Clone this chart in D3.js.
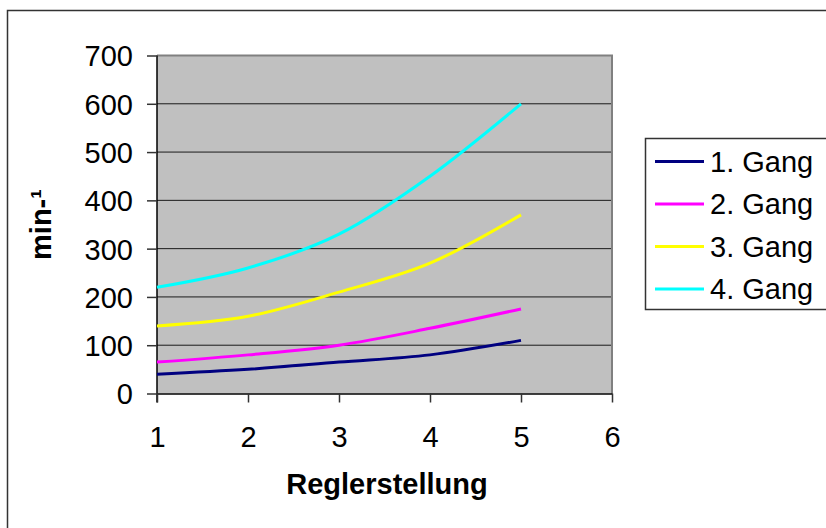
<!DOCTYPE html>
<html>
<head>
<meta charset="utf-8">
<script src="https://cdn.jsdelivr.net/npm/d3@7"></script>
<style>
  html, body { margin: 0; padding: 0; background: #fff; }
  svg text { font-family: "Liberation Sans", Arial, sans-serif; fill: #000; }
</style>
</head>
<body>
<svg id="chart" width="826" height="528"></svg>
<script>
// Drehzahl je Gang über der Reglerstellung
const reglerstellung = [1, 2, 3, 4, 5];
const gang1 = [40, 50, 65, 80, 110];
const gang2 = [65, 80, 100, 135, 175];
const gang3 = [140, 160, 210, 270, 370];
const gang4 = [220, 260, 330, 450, 600];
const seriesNames = ["1. Gang", "2. Gang", "3. Gang", "4. Gang"];
const seriesColors = ["#000080", "#ff00ff", "#ffff00", "#00ffff"];
const xTicks = [1, 2, 3, 4, 5, 6];
const yTicks = [0, 100, 200, 300, 400, 500, 600, 700];

const seriesValues = [gang1, gang2, gang3, gang4];

const svg = d3.select("#chart");
const plot = { left: 157, right: 612, top: 55.5, bottom: 393.5 };

const x = d3.scaleLinear().domain([1, 6]).range([plot.left, plot.right]);
const y = d3.scaleLinear().domain([0, 700]).range([plot.bottom, plot.top]);

// outer chart frame
svg.append("rect")
  .attr("x", 7.5).attr("y", 10.5)
  .attr("width", 840).attr("height", 540)
  .attr("fill", "none").attr("stroke", "#333").attr("stroke-width", 1.5);

// plot background
svg.append("rect")
  .attr("x", plot.left).attr("y", plot.top)
  .attr("width", plot.right - plot.left).attr("height", plot.bottom - plot.top)
  .attr("fill", "#c0c0c0");

// horizontal gridlines
svg.append("g")
  .selectAll("line")
  .data(yTicks.filter(v => v > 0 && v < 700))
  .join("line")
  .attr("x1", plot.left).attr("x2", plot.right)
  .attr("y1", d => y(d)).attr("y2", d => y(d))
  .attr("stroke", "#1a1a1a").attr("stroke-width", 1);

// plot border (top and right in grey)
svg.append("path")
  .attr("d", `M${plot.left},${plot.top}H${plot.right}V${plot.bottom}`)
  .attr("fill", "none").attr("stroke", "#808080").attr("stroke-width", 2);

// y axis
const yAxis = svg.append("g")
  .attr("transform", `translate(${plot.left},0)`)
  .call(d3.axisLeft(y).tickValues(yTicks).tickSize(10).tickPadding(14).tickSizeOuter(0));
yAxis.select(".domain").attr("stroke", "#000").attr("stroke-width", 1.5)
  .attr("d", `M0,${plot.top}V${plot.bottom + 9}`);
yAxis.selectAll(".tick line").attr("stroke", "#333").attr("stroke-width", 1.5);
yAxis.selectAll(".tick text")
  .style("font-size", "29px").attr("dy", "0.36em").attr("fill", "#000");

// x axis
const xAxis = svg.append("g")
  .attr("transform", `translate(0,${plot.bottom})`)
  .call(d3.axisBottom(x).tickValues(xTicks).tickSize(9).tickPadding(14).tickSizeOuter(0)
    .tickFormat(d3.format("d")));
xAxis.select(".domain").attr("stroke", "#000").attr("stroke-width", 1.5);
xAxis.selectAll(".tick line").attr("stroke", "#333").attr("stroke-width", 1.5);
xAxis.selectAll(".tick text")
  .style("font-size", "29px").attr("dy", "0").attr("y", 53).attr("fill", "#000");

// axis titles
svg.append("text")
  .attr("x", 387).attr("y", 494)
  .attr("text-anchor", "middle")
  .style("font-size", "29px").style("font-weight", "bold")
  .text("Reglerstellung");

svg.append("text")
  .attr("transform", `translate(51,${(plot.top + plot.bottom) / 2}) rotate(-90)`)
  .attr("text-anchor", "middle")
  .style("font-size", "29px").style("font-weight", "bold")
  .text("min-¹");

// series lines (smoothed)
const line = d3.line()
  .x((d, i) => x(reglerstellung[i]))
  .y(d => y(d))
  .curve(d3.curveCatmullRom.alpha(0));

svg.append("g")
  .selectAll("path")
  .data(seriesValues)
  .join("path")
  .attr("d", d => line(d))
  .attr("fill", "none")
  .attr("stroke", (d, i) => seriesColors[i])
  .attr("stroke-width", 3)
  .attr("stroke-linejoin", "round");

// legend
const legend = svg.append("g");
legend.append("rect")
  .attr("x", 645.5).attr("y", 138.5)
  .attr("width", 200).attr("height", 171)
  .attr("fill", "#fff").attr("stroke", "#333").attr("stroke-width", 1.5);

const rows = legend.selectAll("g.row")
  .data(seriesNames)
  .join("g")
  .attr("class", "row")
  .attr("transform", (d, i) => `translate(0,${161.5 + i * 42.5})`);
rows.append("line")
  .attr("x1", 655).attr("x2", 704)
  .attr("y1", 0).attr("y2", 0)
  .attr("stroke", (d, i) => seriesColors[i]).attr("stroke-width", 3);
rows.append("text")
  .attr("x", 710).attr("y", 0).attr("dy", "0.36em")
  .style("font-size", "29px")
  .text(d => d);
</script>
</body>
</html>
